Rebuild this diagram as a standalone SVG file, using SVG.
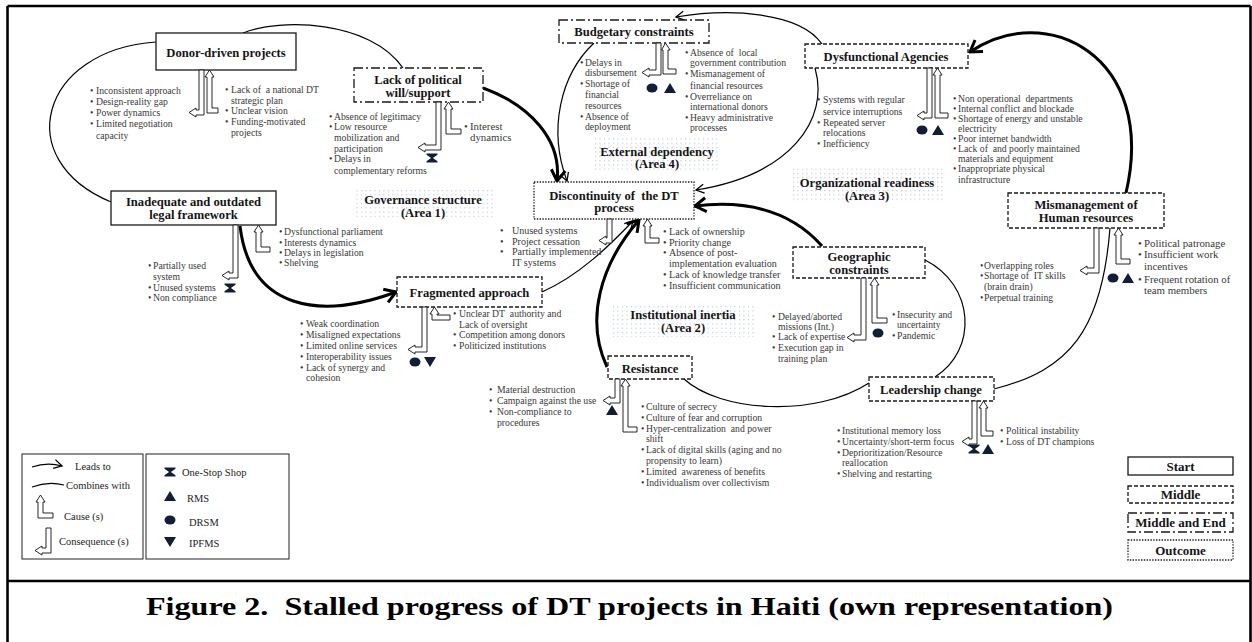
<svg xmlns="http://www.w3.org/2000/svg" width="1252" height="642" viewBox="0 0 1252 642">
<defs>
<style>
.frame{fill:none;stroke:#000;stroke-width:2.6}
.box{fill:#fff;stroke:#1a1a1a;stroke-width:1.3}
.mid{stroke-dasharray:4 2}
.me{stroke-dasharray:9 3 2 3}
.out{stroke-dasharray:1.4 1.4}
.ttl{font-family:'Liberation Serif',serif;font-weight:bold;font-size:12.6px;fill:#141414;text-anchor:middle}
.t{font-family:'Liberation Serif',serif;font-size:9.7px;fill:#383838}
.t10{font-size:10.1px}
.t11{font-size:10.8px}
.area{fill:url(#dots)}
.ca{fill:#fff;stroke:#111;stroke-width:0.9}
.thick{fill:none;stroke:#000;stroke-width:3;marker-end:url(#mThick)}
.thin{fill:none;stroke:#000;stroke-width:1.2;marker-end:url(#mThin)}
.comb{fill:none;stroke:#000;stroke-width:1.2}
.sym{fill:#121d36}
.leg{font-family:'Liberation Serif',serif;font-size:10.5px;fill:#222}
.legb{font-family:'Liberation Serif',serif;font-weight:bold;font-size:13px;fill:#141414;text-anchor:middle}
.cap{font-family:'Liberation Serif',serif;font-weight:bold;font-size:25px;fill:#000}
</style>
<pattern id="dots" width="4.5" height="4.3" patternUnits="userSpaceOnUse"><rect x="1" y="1" width="1" height="1" fill="#9fb3da"/></pattern>
<marker id="mThick" markerUnits="userSpaceOnUse" viewBox="-14 -9 16 18" refX="0" refY="0" markerWidth="16" markerHeight="18" orient="auto"><path d="M-11,-7 L0,0 L-11,7" fill="none" stroke="#000" stroke-width="3"/></marker>
<marker id="mThin" markerUnits="userSpaceOnUse" viewBox="-10 -6 12 12" refX="0" refY="0" markerWidth="12" markerHeight="12" orient="auto"><path d="M-8,-4.5 L0,0 L-8,4.5" fill="none" stroke="#000" stroke-width="1.3"/></marker>
<path id="hg" d="M-5.5,-4.5H5.5V-3.3L0.9,0L5.5,3.3V4.5H-5.5V3.3L-0.9,0L-5.5,-3.3Z"/>
<path id="tu" d="M0,-5L6,5H-6Z"/>
<path id="td" d="M-6,-5H6L0,5Z"/>
<ellipse id="ci" rx="5.5" ry="4.5"/>
</defs>

<rect width="1252" height="642" fill="#fff"/>
<g id="frame" class="frame">
<path d="M7.5,6H1250.5M7.5,6V642M1250.5,6V642M7.5,581H1250.5"/>
</g>

<!-- area labels -->
<g id="areas">
<rect class="area" x="356" y="188" width="137" height="29"/>
<text class="ttl" x="423" y="203.5">Governance structure</text>
<text class="ttl" x="423" y="216.5">(Area 1)</text>
<rect class="area" x="595" y="137" width="123" height="35"/>
<text class="ttl" x="657" y="155.5">External dependency</text>
<text class="ttl" x="657" y="168">(Area 4)</text>
<rect class="area" x="791" y="167" width="154" height="36"/>
<text class="ttl" x="867" y="186.5">Organizational readiness</text>
<text class="ttl" x="867" y="199.5">(Area 3)</text>
<rect class="area" x="612" y="304" width="144" height="33"/>
<text class="ttl" x="683" y="318.5">Institutional inertia</text>
<text class="ttl" x="683" y="332">(Area 2)</text>
</g>

<!-- connectors -->
<g id="connectors">
<path class="comb" d="M156,42 C40,50 10,160 111,202"/>
<path class="comb" d="M243,33 C280,18 370,20 403,68"/>
<path class="comb" d="M925,260 C975,285 978,350 935,377"/>
<path class="comb" d="M1110,228 C1102,330 1070,370 994,389"/>
<path class="comb" d="M869,383 C815,418 720,412 684,379"/>
<path class="thick" d="M483,88 C530,105 562,140 557,181"/>
<path class="thick" d="M1126,193 C1158,55 1045,0 970,52"/>
<path class="thick" d="M822,246 C790,210 745,200 695,206"/>
<path class="thick" d="M607,367 C585,320 600,265 639,220"/>
<path class="thick" d="M240,226 C250,310 320,320 396,292"/>
<path class="thin" d="M594,43 C560,75 548,130 567,181"/>
<path class="thin" d="M822,44 C800,12 730,8 676,17"/>
<path class="thin" d="M815,68 C830,120 790,175 696,190"/>
<path class="thin" d="M542,292 C580,275 610,245 633,221"/>
</g>

<!-- Donor-driven projects (start) -->
<g id="n-donor">
<rect class="box" x="156" y="33" width="140" height="37"/>
<text class="ttl" x="226" y="56.5">Donor-driven projects</text>
<path class="ca" d="M199,70H204V115H196V117L189,112.5L196,108V110H199Z"/>
<path class="ca" d="M207,113H218V108H212V77H214L209.5,70L205,77H207Z"/>
<text class="t"><tspan x="90" y="94.3">•</tspan><tspan x="96" y="94.3">Inconsistent approach</tspan><tspan x="90" y="105.3">•</tspan><tspan x="96" y="105.3">Design-reality gap</tspan><tspan x="90" y="116.3">•</tspan><tspan x="96" y="116.3">Power dynamics</tspan><tspan x="90" y="127.3">•</tspan><tspan x="96" y="127.3">Limited negotiation</tspan><tspan x="96" y="138.7">capacity</tspan></text>
<text class="t"><tspan x="225" y="93.3">•</tspan><tspan x="231" y="93.3">Lack of&#160; a national DT</tspan><tspan x="231" y="104.3">strategic plan</tspan><tspan x="225" y="114.3">•</tspan><tspan x="231" y="114.3">Unclear vision</tspan><tspan x="225" y="125.3">•</tspan><tspan x="231" y="125.3">Funding-motivated</tspan><tspan x="231" y="136.3">projects</tspan></text>
</g>

<!-- Lack of political will/support (middle and end) -->
<g id="n-political">
<rect class="box me" x="354" y="68" width="129" height="34"/>
<text class="ttl" x="418" y="83.5">Lack of political</text>
<text class="ttl" x="418" y="96.5">will/support</text>
<path class="ca" d="M436,102H441V150H425V152L418,147.5L425,143V145H436Z"/>
<path class="ca" d="M446,134H461V129H451V109H453L448.5,102L444,109H446Z"/>
<use href="#hg" x="432" y="158" class="sym"/>
<text class="t"><tspan x="329" y="120.3">•</tspan><tspan x="334" y="120.3">Absence of legitimacy</tspan><tspan x="329" y="130.3">•</tspan><tspan x="334" y="130.3">Low resource</tspan><tspan x="334" y="141.3">mobilization and</tspan><tspan x="334" y="152.3">participation</tspan><tspan x="329" y="162.3">•</tspan><tspan x="334" y="162.3">Delays in</tspan><tspan x="334" y="174.3">complementary reforms</tspan></text>
<text class="t t11"><tspan x="464" y="129.5">•</tspan><tspan x="470" y="129.5">Interest</tspan><tspan x="470" y="140.5">dynamics</tspan></text>
</g>

<!-- Inadequate and outdated legal framework (start) -->
<g id="n-legal">
<rect class="box" x="111" y="191" width="165" height="34"/>
<text class="ttl" x="193.5" y="206">Inadequate and outdated</text>
<text class="ttl" x="193.5" y="218.5">legal framework</text>
<path class="ca" d="M233,225H238V278H229V280L222,275.5L229,271V273H233Z"/>
<path class="ca" d="M256,252H270V247H261V232H263L258.5,225L254,232H256Z"/>
<use href="#hg" x="230" y="288" class="sym"/>
<text class="t"><tspan x="148" y="269.3">•</tspan><tspan x="153" y="269.3">Partially used</tspan><tspan x="153" y="280.3">system</tspan><tspan x="148" y="291.3">•</tspan><tspan x="153" y="291.3">Unused systems</tspan><tspan x="148" y="301.3">•</tspan><tspan x="153" y="301.3">Non compliance</tspan></text>
<text class="t"><tspan x="279" y="235.3">•</tspan><tspan x="284" y="235.3">Dysfunctional parliament</tspan><tspan x="279" y="246.3">•</tspan><tspan x="284" y="246.3">Interests dynamics</tspan><tspan x="279" y="256.3">•</tspan><tspan x="284" y="256.3">Delays in legislation</tspan><tspan x="279" y="266.3">•</tspan><tspan x="284" y="266.3">Shelving</tspan></text>
</g>

<!-- Fragmented approach (middle) -->
<g id="n-fragmented">
<rect class="box mid" x="397" y="277" width="145" height="30"/>
<text class="ttl" x="469.5" y="296.5">Fragmented approach</text>
<path class="ca" d="M422,307H427V352H415V354L408,349.5L415,345V347H422Z"/>
<path class="ca" d="M432,320H450V315H437V314H439L434.5,307L430,314H432Z"/>
<use href="#ci" x="415" y="362" class="sym"/>
<use href="#td" x="430" y="362" class="sym"/>
<text class="t"><tspan x="300" y="327.3">•</tspan><tspan x="306" y="327.3">Weak coordination</tspan><tspan x="300" y="338.3">•</tspan><tspan x="306" y="338.3">Misaligned expectations</tspan><tspan x="300" y="349.3">•</tspan><tspan x="306" y="349.3">Limited online services</tspan><tspan x="300" y="360.3">•</tspan><tspan x="306" y="360.3">Interoperability issues</tspan><tspan x="300" y="371.3">•</tspan><tspan x="306" y="371.3">Lack of synergy and</tspan><tspan x="306" y="381.3">cohesion</tspan></text>
<text class="t"><tspan x="453" y="317.3">•</tspan><tspan x="459" y="317.3">Unclear DT&#160; authority and</tspan><tspan x="459" y="328.3">Lack of oversight</tspan><tspan x="453" y="338.3">•</tspan><tspan x="459" y="338.3">Competition among donors</tspan><tspan x="453" y="349.3">•</tspan><tspan x="459" y="349.3">Politicized institutions</tspan></text>
</g>

<!-- Discontinuity of the DT process (outcome) -->
<g id="n-discontinuity">
<rect class="box out" x="534" y="182" width="160" height="37"/>
<text class="ttl" x="614" y="199.5">Discontinuity of&#160; the DT</text>
<text class="ttl" x="614" y="212">process</text>
<path class="ca" d="M607,219H612V243H606V245L599,240.5L606,236V238H607Z"/>
<path class="ca" d="M645,243H659V238H650V226H652L647.5,219L643,226H645Z"/>
<text class="t t10"><tspan x="500" y="234.3">•</tspan><tspan x="512" y="234.3">Unused systems</tspan><tspan x="500" y="245.3">•</tspan><tspan x="512" y="245.3">Project cessation</tspan><tspan x="500" y="255.3">•</tspan><tspan x="512" y="255.3">Partially implemented</tspan><tspan x="512" y="266.3">IT systems</tspan></text>
<text class="t t10"><tspan x="663" y="235.3">•</tspan><tspan x="669" y="235.3">Lack of ownership</tspan><tspan x="663" y="246.3">•</tspan><tspan x="669" y="246.3">Priority change</tspan><tspan x="663" y="256.3">•</tspan><tspan x="669" y="256.3">Absence of post-</tspan><tspan x="669" y="267.3">implementation evaluation</tspan><tspan x="663" y="278.3">•</tspan><tspan x="669" y="278.3">Lack of knowledge transfer</tspan><tspan x="663" y="289.3">•</tspan><tspan x="669" y="289.3">Insufficient communication</tspan></text>
</g>

<!-- Budgetary constraints (middle and end) -->
<g id="n-budget">
<rect class="box me" x="559" y="20" width="150" height="23"/>
<text class="ttl" x="634" y="36">Budgetary constraints</text>
<path class="ca" d="M656,43H661V75H649V77L642,72.5L649,68V70H656Z"/>
<path class="ca" d="M663,74H676V69H668V50H670L665.5,43L661.5,50H663Z"/>
<use href="#ci" x="652" y="88" class="sym"/>
<use href="#tu" x="670" y="88" class="sym"/>
<text class="t"><tspan x="580" y="66.3">•</tspan><tspan x="585" y="66.3">Delays in</tspan><tspan x="585" y="76.3">disbursement</tspan><tspan x="580" y="87.3">•</tspan><tspan x="585" y="87.3">Shortage of</tspan><tspan x="585" y="98.3">financial</tspan><tspan x="585" y="109.3">resources</tspan><tspan x="580" y="120.3">•</tspan><tspan x="585" y="120.3">Absence of</tspan><tspan x="585" y="130.3">deployment</tspan></text>
<text class="t"><tspan x="685" y="56.3">•</tspan><tspan x="690" y="56.3">Absence of&#160; local</tspan><tspan x="690" y="66.3">government contribution</tspan><tspan x="685" y="77.3">•</tspan><tspan x="690" y="77.3">Mismanagement of</tspan><tspan x="690" y="89.3">financial resources</tspan><tspan x="685" y="100.3">•</tspan><tspan x="690" y="100.3">Overreliance on</tspan><tspan x="690" y="110.3">international donors</tspan><tspan x="685" y="121.3">•</tspan><tspan x="690" y="121.3">Heavy administrative</tspan><tspan x="690" y="131.3">processes</tspan></text>
</g>

<!-- Dysfunctional Agencies (middle) -->
<g id="n-agencies">
<rect class="box mid" x="805" y="44" width="163" height="24"/>
<text class="ttl" x="886" y="60.5">Dysfunctional Agencies</text>
<path class="ca" d="M927,68H932V118H924V120L917,115.5L924,111V113H927Z"/>
<path class="ca" d="M935,118H948V113H940V75H942L937.5,68L933,75H935Z"/>
<use href="#ci" x="922" y="130" class="sym"/>
<use href="#tu" x="938" y="130" class="sym"/>
<text class="t"><tspan x="817" y="103.3">•</tspan><tspan x="823" y="103.3">Systems with regular</tspan><tspan x="823" y="115">service interruptions</tspan><tspan x="817" y="125.6">•</tspan><tspan x="823" y="125.6">Repeated server</tspan><tspan x="823" y="136.3">relocations</tspan><tspan x="817" y="147.3">•</tspan><tspan x="823" y="147.3">Inefficiency</tspan></text>
<text class="t"><tspan x="953" y="102.3">•</tspan><tspan x="958" y="102.3">Non operational&#160; departments</tspan><tspan x="953" y="112.3">•</tspan><tspan x="958" y="112.3">Internal conflict and blockade</tspan><tspan x="953" y="122.3">•</tspan><tspan x="958" y="122.3">Shortage of energy and unstable</tspan><tspan x="958" y="132.3">electricity</tspan><tspan x="953" y="142.3">•</tspan><tspan x="958" y="142.3">Poor internet bandwidth</tspan><tspan x="953" y="152.3">•</tspan><tspan x="958" y="152.3">Lack of&#160; and poorly maintained</tspan><tspan x="958" y="162.3">materials and equipment</tspan><tspan x="953" y="172.3">•</tspan><tspan x="958" y="172.3">Inappropriate physical</tspan><tspan x="958" y="183.3">infrastructure</tspan></text>
</g>

<!-- Mismanagement of Human resources (middle) -->
<g id="n-hr">
<rect class="box mid" x="1008" y="193" width="156" height="35"/>
<text class="ttl" x="1086" y="209">Mismanagement of</text>
<text class="ttl" x="1086" y="222">Human resources</text>
<path class="ca" d="M1094,228H1099V273H1087V275L1080,270.5L1087,266V268H1094Z"/>
<path class="ca" d="M1116,264H1130V259H1121V235H1123L1118.5,228L1114,235H1116Z"/>
<use href="#ci" x="1113" y="278" class="sym"/>
<use href="#tu" x="1128" y="278" class="sym"/>
<text class="t"><tspan x="980" y="269.3">•</tspan><tspan x="984" y="269.3">Overlapping roles</tspan><tspan x="980" y="279.3">•</tspan><tspan x="984" y="279.3">Shortage of&#160; IT skills</tspan><tspan x="984" y="290.3">(brain drain)</tspan><tspan x="980" y="301.3">•</tspan><tspan x="984" y="301.3">Perpetual training</tspan></text>
<text class="t t11"><tspan x="1138" y="246.5">•</tspan><tspan x="1144" y="246.5">Political patronage</tspan><tspan x="1138" y="257.5">•</tspan><tspan x="1144" y="257.5">Insufficient work</tspan><tspan x="1144" y="270">incentives</tspan><tspan x="1138" y="282.5">•</tspan><tspan x="1144" y="282.5">Frequent rotation of</tspan><tspan x="1144" y="293.5">team members</tspan></text>
</g>

<!-- Geographic constraints (middle) -->
<g id="n-geo">
<rect class="box mid" x="793" y="247" width="132" height="31"/>
<text class="ttl" x="859" y="261">Geographic</text>
<text class="ttl" x="859" y="273.5">constraints</text>
<path class="ca" d="M861,278H866V340H854V342L847,337.5L854,333V335H861Z"/>
<path class="ca" d="M872,323H887V318H877V285H879L874.5,278L870,285H872Z"/>
<use href="#ci" x="878" y="333" class="sym"/>
<text class="t"><tspan x="772" y="320.3">•</tspan><tspan x="778" y="320.3">Delayed/aborted</tspan><tspan x="778" y="330.3">missions (Int.)</tspan><tspan x="772" y="340.3">•</tspan><tspan x="778" y="340.3">Lack of expertise</tspan><tspan x="772" y="351.3">•</tspan><tspan x="778" y="351.3">Execution gap in</tspan><tspan x="778" y="362.3">training plan</tspan></text>
<text class="t"><tspan x="892" y="318.3">•</tspan><tspan x="897" y="318.3">Insecurity and</tspan><tspan x="897" y="328.3">uncertainty</tspan><tspan x="892" y="339.3">•</tspan><tspan x="897" y="339.3">Pandemic</tspan></text>
</g>

<!-- Resistance (middle) -->
<g id="n-resistance">
<rect class="box mid" x="608" y="356" width="84" height="23"/>
<text class="ttl" x="650" y="372.5">Resistance</text>
<path class="ca" d="M615,379H620V403H610V405L603,400.5L610,396V398H615Z"/>
<path class="ca" d="M623,432H637V427H628V386H630L625.5,379L621,386H623Z"/>
<use href="#tu" x="612" y="410" class="sym"/>
<text class="t"><tspan x="489" y="393.3">•</tspan><tspan x="497" y="393.3">Material destruction</tspan><tspan x="489" y="404.3">•</tspan><tspan x="497" y="404.3">Campaign against the use</tspan><tspan x="489" y="415.3">•</tspan><tspan x="497" y="415.3">Non-compliance to</tspan><tspan x="497" y="426.3">procedures</tspan></text>
<text class="t"><tspan x="641" y="410.3">•</tspan><tspan x="646" y="410.3">Culture of secrecy</tspan><tspan x="641" y="421.3">•</tspan><tspan x="646" y="421.3">Culture of fear and corruption</tspan><tspan x="641" y="432.3">•</tspan><tspan x="646" y="432.3">Hyper-centralization&#160; and power</tspan><tspan x="646" y="442.3">shift</tspan><tspan x="641" y="453.3">•</tspan><tspan x="646" y="453.3">Lack of digital skills (aging and no</tspan><tspan x="646" y="464.3">propensity to learn)</tspan><tspan x="641" y="475.3">•</tspan><tspan x="646" y="475.3">Limited&#160; awareness of benefits</tspan><tspan x="641" y="486.3">•</tspan><tspan x="646" y="486.3">Individualism over collectivism</tspan></text>
</g>

<!-- Leadership change (middle) -->
<g id="n-leadership">
<rect class="box mid" x="869" y="377" width="125" height="24"/>
<text class="ttl" x="931" y="393.5">Leadership change</text>
<path class="ca" d="M972,401H977V444H969V446L962,441.5L969,437V439H972Z"/>
<path class="ca" d="M981,436H993V431H986V408H988L983.5,401L979,408H981Z"/>
<use href="#hg" x="974" y="449" class="sym"/>
<use href="#tu" x="988" y="449" class="sym"/>
<text class="t"><tspan x="837" y="434.3">•</tspan><tspan x="842" y="434.3">Institutional memory loss</tspan><tspan x="837" y="445.3">•</tspan><tspan x="842" y="445.3">Uncertainty/short-term focus</tspan><tspan x="837" y="456.3">•</tspan><tspan x="842" y="456.3">Deprioritization/Resource</tspan><tspan x="842" y="466.3">reallocation</tspan><tspan x="837" y="477.3">•</tspan><tspan x="842" y="477.3">Shelving and restarting</tspan></text>
<text class="t"><tspan x="1000" y="434.3">•</tspan><tspan x="1006" y="434.3">Political instability</tspan><tspan x="1000" y="445.3">•</tspan><tspan x="1006" y="445.3">Loss of DT champions</tspan></text>
</g>

<!-- Legend: relations -->
<g id="legend-relations">
<rect x="22" y="454" width="121" height="105" fill="#fff" stroke="#222" stroke-width="1"/>
<path class="thin" d="M32,467 Q47,462 62,466"/>
<text class="leg" x="75" y="469.5">Leads to</text>
<path class="comb" d="M32,487 Q48,481 64,485"/>
<text class="leg" x="66" y="488.5">Combines with</text>
<path class="ca" d="M38,518H53V513H43V502H45L40.5,495L36,502H38Z"/>
<text class="leg" x="64" y="519.5">Cause (s)</text>
<path class="ca" d="M46,528H51V553H42V555L35,550.5L42,546V548H46Z"/>
<text class="leg" x="59" y="544.5">Consequence (s)</text>
</g>

<!-- Legend: systems -->
<g id="legend-systems">
<rect x="146" y="454" width="143" height="105" fill="#fff" stroke="#222" stroke-width="1"/>
<use href="#hg" x="170" y="472" class="sym"/>
<text class="leg" x="182" y="475.5">One-Stop Shop</text>
<use href="#tu" x="170" y="496" class="sym"/>
<text class="leg" x="187" y="502">RMS</text>
<use href="#ci" x="170" y="520" class="sym"/>
<text class="leg" x="189" y="526">DRSM</text>
<use href="#td" x="170" y="542" class="sym"/>
<text class="leg" x="189" y="546.5">IPFMS</text>
</g>

<!-- Legend: box styles -->
<g id="legend-styles">
<rect class="box" x="1128" y="457" width="105" height="18"/>
<text class="legb" x="1180.5" y="470.5">Start</text>
<rect class="box mid" x="1128" y="486" width="105" height="17"/>
<text class="legb" x="1180.5" y="499">Middle</text>
<rect class="box me" x="1128" y="513" width="105" height="19"/>
<text class="legb" x="1180.5" y="527">Middle and End</text>
<rect class="box out" x="1128" y="540" width="105" height="20"/>
<text class="legb" x="1180.5" y="554.5">Outcome</text>
</g>

<g id="caption">
<text class="cap" x="146" y="615" textLength="967" lengthAdjust="spacingAndGlyphs">Figure 2.&#160; Stalled progress of DT projects in Haiti (own representation)</text>
</g>
</svg>
